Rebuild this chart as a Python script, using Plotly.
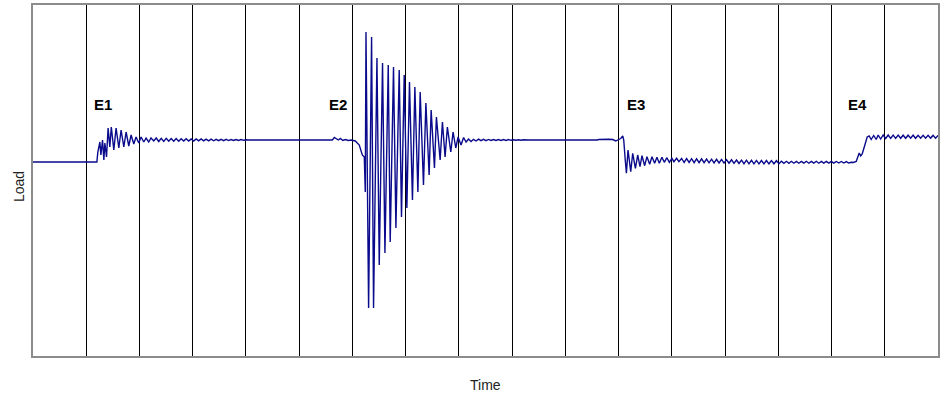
import numpy as np
import plotly.graph_objects as go

# ---------------- data (time in s, load in kN) ----------------
# baseline before event E1
t_base = [0.0, 1.200]
load_base = [19.4, 19.4]

# event E1 (step up with ringing)
t_e1 = [1.218, 1.256, 1.275, 1.306, 1.331, 1.350, 1.381, 1.411, 1.443, 1.471,
        1.518, 1.561, 1.612, 1.655, 1.706, 1.749, 1.799, 1.843, 1.893, 1.936,
        1.987, 2.030, 2.081, 2.124, 2.174, 2.217, 2.268, 2.315]
load_e1 = [20.4, 21.4, 20.1, 21.6, 19.6, 21.3, 19.9, 22.8, 20.9, 22.9,
           20.6, 22.8, 20.8, 22.6, 20.9, 22.4, 21.0, 22.1, 21.2, 21.9,
           21.3, 21.9, 21.4, 21.8, 21.4, 21.8, 21.5, 21.8]

# decaying ripple after E1 (sampled every sample_dt from t0_w1)
sample_dt = 0.04686
t0_w1 = 2.362
load_w1 = [21.45, 21.77, 21.46, 21.76, 21.47, 21.75, 21.47, 21.74, 21.48, 21.73,
           21.49, 21.72, 21.49, 21.71, 21.50, 21.70, 21.51, 21.70, 21.51, 21.69,
           21.52, 21.68, 21.52, 21.67, 21.53, 21.67, 21.54, 21.66, 21.54, 21.65,
           21.55, 21.65, 21.56, 21.64, 21.57, 21.63, 21.60]

# steady level
t_flat1 = [4.10, 5.60]
load_flat1 = [21.6, 21.6]

# event E2 (large decaying oscillation)
t_e2 = [5.623, 5.661, 5.698, 5.736, 5.773, 5.820, 5.867, 5.923, 5.979, 6.054,
        6.129, 6.186, 6.223, 6.242, 6.255, 6.304, 6.360, 6.397, 6.461, 6.504,
        6.566, 6.611, 6.673, 6.710, 6.772, 6.817, 6.879, 6.922, 6.973, 7.023,
        7.072, 7.128, 7.173, 7.230, 7.273, 7.335, 7.380, 7.441, 7.479, 7.541,
        7.578, 7.648, 7.691, 7.741, 7.784, 7.848, 7.891, 7.942, 7.985, 8.041,
        8.088, 8.135, 8.182, 8.229, 8.275, 8.322]
load_e2 = [21.6, 21.85, 21.75, 21.6, 21.75, 21.55, 21.65, 21.55, 21.6, 21.5,
           21.1, 20.1, 19.9, 16.4, 32.4, 4.8, 31.9, 4.8, 29.8, 9.1,
           29.3, 10.3, 29.1, 11.4, 28.9, 12.8, 28.6, 13.9, 28.1, 14.8,
           27.4, 15.6, 26.9, 16.4, 26.4, 17.1, 25.3, 18.1, 24.6, 18.8,
           23.9, 19.6, 23.4, 19.9, 22.9, 20.4, 22.4, 20.8, 21.9, 21.1,
           21.85, 21.4, 21.7, 21.45, 21.67, 21.5]

t0_w2 = 8.369
load_w2 = [21.68, 21.53, 21.67, 21.54, 21.66, 21.55, 21.65, 21.55, 21.65, 21.56,
           21.64, 21.56, 21.64, 21.57, 21.63, 21.57, 21.63, 21.58, 21.62, 21.60]

t_flat2 = [9.30, 10.60]
load_flat2 = [21.6, 21.6]

# event E3 (step down with ringing)
t_e3 = [10.628, 10.815, 10.890, 10.947, 11.003, 11.040, 11.078, 11.097, 11.125, 11.147,
        11.177, 11.228, 11.265, 11.316, 11.359, 11.402, 11.440, 11.490, 11.533, 11.584,
        11.627, 11.677, 11.720, 11.765, 11.814, 11.859, 11.908, 11.953, 12.002, 12.039,
        12.090, 12.133]
load_e3 = [21.65, 21.67, 21.65, 21.5, 21.7, 21.75, 22.0, 21.6, 19.6, 18.27,
           20.6, 18.43, 20.27, 18.77, 20.1, 18.93, 20.03, 19.03, 19.93, 19.17,
           19.93, 19.27, 19.87, 19.27, 19.87, 19.37, 19.83, 19.37, 19.77, 19.43,
           19.77, 19.43]

t0_w3 = 12.184
load_w3 = [19.75, 19.35, 19.74, 19.35, 19.73, 19.34, 19.72, 19.33, 19.71, 19.33,
           19.70, 19.32, 19.68, 19.31, 19.67, 19.30, 19.66, 19.29, 19.64, 19.28,
           19.62, 19.26, 19.60, 19.25, 19.59, 19.23, 19.58, 19.22, 19.57, 19.21,
           19.56, 19.21, 19.55, 19.21, 19.55, 19.22, 19.54, 19.22, 19.53, 19.23,
           19.48, 19.27, 19.47, 19.27, 19.47, 19.28, 19.46, 19.28, 19.46, 19.29,
           19.47, 19.28, 19.46, 19.29, 19.47, 19.28, 19.46, 19.29, 19.46, 19.29,
           19.46, 19.29, 19.45, 19.30, 19.45, 19.30, 19.44, 19.30]

# event E4 (step up)
t_e4 = [15.370, 15.408, 15.464, 15.492, 15.520, 15.548, 15.576, 15.604, 15.632, 15.670,
        15.707, 15.745, 15.792, 15.839, 15.876, 15.923, 15.970]
load_e4 = [19.37, 19.35, 19.45, 19.9, 20.3, 20.0, 20.2, 20.7, 21.2, 21.9,
           22.0, 21.65, 22.05, 21.65, 22.1, 21.7, 22.1]

t0_w4 = 16.017
load_w4 = [21.75, 22.10, 21.76, 22.09, 21.76, 22.09, 21.77, 22.08, 21.77, 22.08,
           21.78, 22.08, 21.77, 22.07, 21.78, 22.07, 21.78, 22.07, 21.79, 22.06,
           21.78, 22.06]

event_labels = ["E1", "E2", "E3", "E4"]
event_label_t = [1.31, 5.72, 11.32, 15.48]
event_label_load = [25.2, 25.2, 25.2, 25.2]

x_range = [0, 17]
y_range = [0, 35.1]
y_tick_vals = [0, 35.1]
y_tick_text = ["0.00", "35.10"]


def ripple_times(t0, vals):
    return list(t0 + sample_dt * np.arange(len(vals)))


time = (t_base + t_e1 + ripple_times(t0_w1, load_w1) + t_flat1 + t_e2
        + ripple_times(t0_w2, load_w2) + t_flat2 + t_e3
        + ripple_times(t0_w3, load_w3) + t_e4 + ripple_times(t0_w4, load_w4))
load = (load_base + load_e1 + load_w1 + load_flat1 + load_e2 + load_w2
        + load_flat2 + load_e3 + load_w3 + load_e4 + load_w4)

fig = go.Figure()
fig.add_trace(go.Scatter(x=time, y=load, mode="lines",
                         line=dict(color="#0a0a8c", width=1.4),
                         showlegend=False))

for lab, tx, ty in zip(event_labels, event_label_t, event_label_load):
    fig.add_annotation(x=tx, y=ty, text="<b>%s</b>" % lab, showarrow=False,
                       font=dict(family="Liberation Sans, Arial", size=15, color="black"),
                       xanchor="center", yanchor="middle")

fig.add_annotation(xref="paper", yref="paper", x=0.4995, y=-0.083, text="Time",
                   showarrow=False, font=dict(family="Liberation Sans, Arial", size=14, color="#222"),
                   xanchor="center", yanchor="middle")
fig.add_annotation(xref="paper", yref="paper", x=-0.0155, y=0.484, text="Load",
                   showarrow=False, textangle=-90,
                   font=dict(family="Liberation Sans, Arial", size=14, color="#222"),
                   xanchor="center", yanchor="middle")

fig.update_layout(
    width=940, height=396,
    margin=dict(l=33, r=0, t=5, b=40),
    paper_bgcolor="white", plot_bgcolor="white",
    font=dict(family="Liberation Sans, Arial"),
)
fig.update_xaxes(range=x_range, dtick=1, tick0=0, showgrid=True,
                 gridcolor="black", gridwidth=1, showticklabels=False,
                 ticks="", zeroline=False, showline=True, linecolor="#8c8c8c",
                 linewidth=1.5, mirror=True)
fig.update_yaxes(range=y_range, showgrid=False, zeroline=False,
                 tickvals=y_tick_vals, ticktext=y_tick_text,
                 ticklabelposition="inside", ticklabelstandoff=12,
                 tickfont=dict(color="white", size=10), ticks="",
                 showline=True, linecolor="#8c8c8c", linewidth=1.5, mirror=True)

fig.write_html("out.html",
               config={"displayModeBar": False},
               post_script="document.body.style.margin='0';"
                           "document.body.style.padding='0';"
                           "document.body.style.overflow='hidden';")
